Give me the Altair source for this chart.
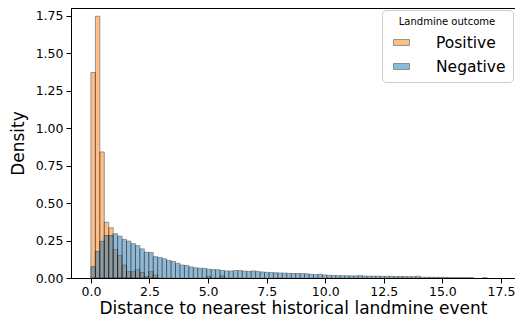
import altair as alt
import pandas as pd

BIN_WIDTH = 0.19

outcomes = ["Positive", "Negative"]
colors = ["#ff7f0e", "#1f77b4"]

# density per bin (bin k spans [k*BIN_WIDTH, (k+1)*BIN_WIDTH])
positive = [1.37, 1.745, 0.84, 0.372, 0.335, 0.19, 0.151, 0.086, 0.043, 0.043,
            0.056, 0.037, 0.01, 0.043, 0.02, 0, 0, 0, 0, 0,
            0, 0, 0, 0, 0, 0, 0.012, 0, 0, 0.015]

negative = [0.076, 0.177, 0.244, 0.283, 0.283, 0.295, 0.279, 0.257, 0.246, 0.229,
            0.216, 0.194, 0.172, 0.17, 0.142, 0.137, 0.128, 0.117, 0.11, 0.098,
            0.086, 0.083, 0.074, 0.068, 0.065, 0.064, 0.058, 0.056, 0.055, 0.05,
            0.047, 0.046, 0.05, 0.049, 0.046, 0.044, 0.047, 0.044, 0.040, 0.038,
            0.036, 0.035, 0.033, 0.033, 0.031, 0.030, 0.030, 0.029, 0.028, 0.024,
            0.022, 0.025, 0.020, 0.018, 0.017, 0.016, 0.015, 0.015, 0.014, 0.014,
            0.016, 0.013, 0.012, 0.012, 0.012, 0.011, 0.011, 0.011, 0.010, 0.010,
            0.010, 0.009, 0.009, 0.012, 0.005, 0.005, 0.005, 0.004, 0.004, 0.004,
            0.003, 0.003, 0.003, 0.002, 0.002, 0.002, 0, 0, 0.002, 0]

x_ticks = [0, 2.5, 5, 7.5, 10, 12.5, 15, 17.5]
y_ticks = [0, 0.25, 0.5, 0.75, 1.0, 1.25, 1.5, 1.75]

rows = []
for name, vals in zip(outcomes, [positive, negative]):
    for i, v in enumerate(vals):
        if v > 0:
            rows.append({"start": i * BIN_WIDTH, "end": (i + 1) * BIN_WIDTH,
                         "density": v, "base": 0.0, "outcome": name})
df = pd.DataFrame(rows)

chart = alt.Chart(df).mark_rect(
    opacity=0.5, stroke="black", strokeWidth=0.8
).encode(
    x=alt.X("start:Q",
            scale=alt.Scale(domain=[-0.85, 18.10], nice=False, zero=False),
            axis=alt.Axis(values=x_ticks, format=".1f",
                          title="Distance to nearest historical landmine event",
                          labelFlush=False, labelOverlap=False,
                          labelPadding=2, titlePadding=3)),
    x2="end:Q",
    y=alt.Y("density:Q",
            scale=alt.Scale(domain=[0, 1.80], nice=False),
            axis=alt.Axis(values=y_ticks, format=".2f", title="Density",
                          labelFlush=False, labelOverlap=False,
                          labelPadding=3, titlePadding=8)),
    y2="base:Q",
    color=alt.Color("outcome:N",
                    scale=alt.Scale(domain=outcomes, range=colors),
                    legend=alt.Legend(
                        title="Landmine outcome",
                        orient="none", legendX=311, legendY=2,
                        titleFontSize=10, titleFontWeight="normal",
                        titleAnchor="middle", titlePadding=7,
                        labelFontSize=15.5, labelColor="black",
                        symbolType="M-0.5,-0.375H1.5V0.375H-0.5Z",
                        symbolSize=256, symbolOpacity=0.5,
                        symbolStrokeColor="black", symbolStrokeWidth=0.8,
                        labelOffset=30, padding=7, rowPadding=7,
                        fillColor="rgba(255,255,255,0.8)",
                        strokeColor="#cccccc", cornerRadius=4)),
).properties(
    width=444, height=270,
    autosize=alt.AutoSizeParams(type="none"),
    padding={"left": 63, "top": 0, "right": 0, "bottom": 39},
).configure_view(
    stroke="black", strokeWidth=1
).configure_axis(
    grid=False, domainColor="black", tickColor="black", tickSize=5,
    labelColor="black", titleColor="black", labelFont="DejaVu Sans",
    titleFont="DejaVu Sans", labelFontSize=12.5, titleFontSize=17,
    titleFontWeight="normal"
).configure_legend(
    labelFont="DejaVu Sans", titleFont="DejaVu Sans", titleColor="black"
)

chart.save("out.html", embed_options={"renderer": "svg", "actions": False})
